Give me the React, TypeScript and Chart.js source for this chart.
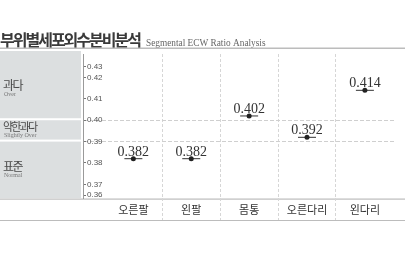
import React, { useEffect, useRef } from 'react';
import { Chart, registerables, LinearScale } from 'chart.js';

Chart.register(...registerables);

// ---- data ----
const categories = ['오른팔', '왼팔', '몸통', '오른다리', '왼다리'];
const ecwRatio = [0.382, 0.382, 0.402, 0.392, 0.414];
const yTickValues = [0.36, 0.37, 0.38, 0.39, 0.4, 0.41, 0.42, 0.43];
const zoneNames = ['과다', '약한과다', '표준'];
const zoneNamesEn = ['Over', 'Slightly Over', 'Normal'];
const zoneBounds = [0.4, 0.39];

const TITLE_KO = '부위별세포외수분비분석';
const TITLE_EN = 'Segmental ECW Ratio Analysis';

// ---- y scale: the outer steps (0.36–0.37, 0.42–0.43) are drawn at half height ----
const WARP_VALUES = [0.36, 0.37, 0.42, 0.43];
const WARP_UNITS = [0, 0.5, 5.5, 6];

function seg(v: number, from: number[]) {
  const n = from.length;
  if (v <= from[1]) return 0;
  if (v >= from[n - 2]) return n - 2;
  let i = 0;
  while (v > from[i + 1]) i++;
  return i;
}
function warp(v: number) {
  const i = seg(v, WARP_VALUES);
  const t = (v - WARP_VALUES[i]) / (WARP_VALUES[i + 1] - WARP_VALUES[i]);
  return WARP_UNITS[i] + t * (WARP_UNITS[i + 1] - WARP_UNITS[i]);
}
function unwarp(u: number) {
  const i = seg(u, WARP_UNITS);
  const t = (u - WARP_UNITS[i]) / (WARP_UNITS[i + 1] - WARP_UNITS[i]);
  return WARP_VALUES[i] + t * (WARP_VALUES[i + 1] - WARP_VALUES[i]);
}

class WarpedScale extends LinearScale {
  static id = 'warped';
  static defaults = LinearScale.defaults;
  getPixelForValue(value: number) {
    const lo = warp(this.min);
    const hi = warp(this.max);
    return this.getPixelForDecimal((warp(value) - lo) / (hi - lo));
  }
  getValueForPixel(pixel: number) {
    const lo = warp(this.min);
    const hi = warp(this.max);
    return unwarp(lo + this.getDecimalForPixel(pixel) * (hi - lo));
  }
}
Chart.register(WarpedScale);

const KR = '"Noto Sans CJK KR", "Noto Sans", sans-serif';
const SERIF = '"Liberation Serif", "DejaVu Serif", serif';
const SANS = '"Liberation Sans", Arial, sans-serif';

// Title, side panel with the range names, and the rules around the label row
const framePlugin = {
  id: 'frame',
  beforeDraw(chart: any) {
    const { ctx, chartArea: ca, scales, width } = chart;
    const y = scales.y;
    ctx.save();

    ctx.textBaseline = 'alphabetic';
    ctx.textAlign = 'left';
    ctx.fillStyle = '#3a3a3a';
    ctx.font = `bold 16px ${KR}`;
    (ctx as any).letterSpacing = '-2px';
    ctx.fillText(TITLE_KO, 0, 45.5);
    (ctx as any).letterSpacing = '0px';
    ctx.fillStyle = '#666';
    ctx.font = `9.3px ${SERIF}`;
    ctx.fillText(TITLE_EN, 146, 45.5);

    ctx.fillStyle = '#bcbcbc';
    ctx.fillRect(0, 47.5, width, 1.5);

    // side panel
    const b0 = y.getPixelForValue(zoneBounds[0]);
    const b1 = y.getPixelForValue(zoneBounds[1]);
    const panelRight = ca.left - 2;
    const zones = [
      [ca.top - 3, b0 - 2],
      [b0, b1 - 2],
      [b1, ca.bottom],
    ];
    const offsets = [5, 1, 1];
    const sizes = [12, 11, 12];
    const spacing = [-1.5, -1.8, -1.5];
    ctx.fillStyle = '#dcdfe0';
    zones.forEach(([t, b]) => ctx.fillRect(0, t, panelRight, b - t));

    zones.forEach(([t, b], i) => {
      const mid = (t + b) / 2 + offsets[i];
      ctx.fillStyle = '#4a4a4a';
      ctx.font = `${sizes[i]}px ${KR}`;
      (ctx as any).letterSpacing = `${spacing[i]}px`;
      ctx.fillText(zoneNames[i], 3, mid);
      (ctx as any).letterSpacing = '0px';
      ctx.fillStyle = '#777';
      ctx.font = `6px ${SERIF}`;
      ctx.fillText(zoneNamesEn[i], 4, mid + 6.5);
    });

    // rules of the category row
    ctx.fillStyle = '#bcbcbc';
    ctx.fillRect(0, ca.bottom + 0.5, width, 1.2);
    ctx.fillRect(0, ca.bottom + 22, width, 1);
    ctx.restore();
  },
};

// Value text above each marker
const valueLabelPlugin = {
  id: 'valueLabels',
  afterDatasetsDraw(chart: any) {
    const { ctx } = chart;
    const meta = chart.getDatasetMeta(1);
    ctx.save();
    ctx.font = `14px ${SERIF}`;
    ctx.fillStyle = '#333';
    ctx.textAlign = 'center';
    ctx.textBaseline = 'alphabetic';
    meta.data.forEach((pt: any, i: number) => {
      ctx.fillText(ecwRatio[i].toFixed(3), pt.x, pt.y - 3);
    });
    ctx.restore();
  },
};

export default function App() {
  const ref = useRef<HTMLCanvasElement>(null);

  useEffect(() => {
    if (!ref.current) return;
    const points = ecwRatio.map((v, i) => ({ x: i, y: v }));
    const chart = new Chart(ref.current, {
      type: 'scatter',
      data: {
        datasets: [
          {
            data: points,
            pointStyle: 'line',
            pointRadius: 9,
            pointBorderWidth: 1,
            pointBorderColor: '#333',
            order: 1,
          },
          {
            data: points,
            pointStyle: 'circle',
            pointRadius: 2.5,
            pointBorderWidth: 0,
            pointBackgroundColor: '#222',
            order: 0,
          },
        ],
      },
      options: {
        responsive: false,
        animation: false,
        devicePixelRatio: 1,
        layout: { padding: { left: 83, right: 1, top: 54, bottom: 33 } },
        plugins: { legend: { display: false }, tooltip: { enabled: false } },
        events: [],
        scales: {
          x: {
            type: 'linear',
            position: 'bottom',
            weight: 1,
            min: -0.87,
            max: 4.52,
            afterBuildTicks: (s: any) => {
              s.ticks = categories.map((_, i) => ({ value: i }));
            },
            afterFit: (s: any) => {
              s.height = 22;
            },
            grid: { display: false, drawTicks: false },
            border: { display: false },
            ticks: {
              autoSkip: false,
              maxRotation: 0,
              padding: 5,
              color: '#333',
              font: { family: KR, size: 11 },
              callback: (v: any) => categories[v] ?? '',
            },
          },
          xg: {
            type: 'linear',
            position: 'bottom',
            weight: 0,
            min: -0.87,
            max: 4.52,
            afterBuildTicks: (s: any) => {
              s.ticks = categories.slice(1).map((_, i) => ({ value: i + 0.5 }));
            },
            afterFit: (s: any) => {
              s.height = 0;
            },
            grid: {
              color: '#d6d6d6',
              tickColor: '#d6d6d6',
              tickLength: 22,
              drawTicks: true,
              tickBorderDash: [3, 2],
            },
            border: { display: false, dash: [3, 2] },
            ticks: { display: false },
          },
          y: {
            type: 'warped' as any,
            position: 'left',
            min: 0.3572,
            max: 0.442,
            afterBuildTicks: (s: any) => {
              s.ticks = yTickValues.map((v) => ({ value: v }));
            },
            afterFit: (s: any) => {
              s.width = 0;
            },
            grid: {
              color: (c: any) =>
                c.tick && zoneBounds.some((b) => Math.abs(b - c.tick.value) < 1e-9)
                  ? '#cfcfcf'
                  : 'rgba(0,0,0,0)',
              tickColor: '#777',
              tickLength: -3,
              drawTicks: true,
              tickBorderDash: [],
            },
            border: { display: true, color: '#9a9a9a', width: 1, dash: [4, 2] },
            ticks: {
              mirror: true,
              padding: 4,
              color: '#555',
              font: { family: SANS, size: 8 },
              callback: (v: any) => Number(v).toFixed(2),
            },
          },
        },
      },
      plugins: [framePlugin, valueLabelPlugin],
    });
    return () => chart.destroy();
  }, []);

  return (
    <div style={{ position: 'absolute', left: 0, top: 0, width: 405, height: 253, background: '#fff' }}>
      <canvas ref={ref} width={405} height={253} style={{ display: 'block' }} />
    </div>
  );
}
